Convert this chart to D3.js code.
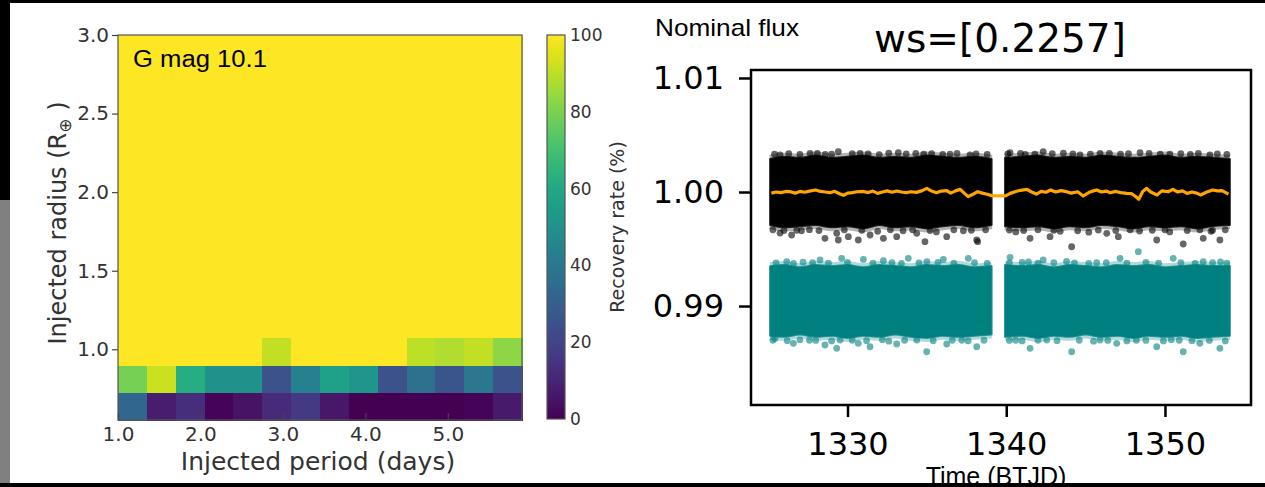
<!DOCTYPE html>
<html>
<head>
<meta charset="utf-8">
<script src="https://cdn.jsdelivr.net/npm/d3@7"></script>
<style>
  html, body { margin: 0; padding: 0; background: #fff; }
  svg { display: block; }
</style>
</head>
<body>
<svg id="fig" width="1265" height="487"></svg>
<script>
// ---------- injection / recovery grid ----------
const periodEdges = [1.00, 1.35, 1.70, 2.05, 2.40, 2.75, 3.10, 3.45, 3.80, 4.15, 4.50, 4.85, 5.20, 5.55, 5.90];
const radiusEdges = [0.550, 0.725, 0.900, 1.075, 1.250, 1.425, 1.600, 1.775, 1.950, 2.125, 2.300, 2.475, 2.650, 2.825, 3.000];
// recovery rate (%) per radius bin (bottom row first), one value per period bin
const recoveryRows = [
  [33, 8, 13, 1, 5, 12, 17, 6, 0, 0, 0, 0, 1, 7],
  [79, 92, 62, 50, 50, 25, 43, 57, 52, 25, 37, 26, 40, 25],
  [100, 100, 100, 100, 100, 91, 100, 100, 100, 100, 90, 88, 91, 83],
  [100, 100, 100, 100, 100, 100, 100, 100, 100, 100, 100, 100, 100, 100],
  [100, 100, 100, 100, 100, 100, 100, 100, 100, 100, 100, 100, 100, 100],
  [100, 100, 100, 100, 100, 100, 100, 100, 100, 100, 100, 100, 100, 100],
  [100, 100, 100, 100, 100, 100, 100, 100, 100, 100, 100, 100, 100, 100],
  [100, 100, 100, 100, 100, 100, 100, 100, 100, 100, 100, 100, 100, 100],
  [100, 100, 100, 100, 100, 100, 100, 100, 100, 100, 100, 100, 100, 100],
  [100, 100, 100, 100, 100, 100, 100, 100, 100, 100, 100, 100, 100, 100],
  [100, 100, 100, 100, 100, 100, 100, 100, 100, 100, 100, 100, 100, 100],
  [100, 100, 100, 100, 100, 100, 100, 100, 100, 100, 100, 100, 100, 100],
  [100, 100, 100, 100, 100, 100, 100, 100, 100, 100, 100, 100, 100, 100],
  [100, 100, 100, 100, 100, 100, 100, 100, 100, 100, 100, 100, 100, 100]
];
const periodTicks = [1.0, 2.0, 3.0, 4.0, 5.0];
const radiusTicks = [1.0, 1.5, 2.0, 2.5, 3.0];
const rateTicks = [0, 20, 40, 60, 80, 100];

// ---------- light curve ----------
const seg1Time = [1325.12, 1326, 1327, 1328, 1329, 1330, 1331, 1332, 1333, 1334, 1335, 1336, 1337, 1338, 1339.08];
const seg2Time = [1339.92, 1341, 1342, 1343, 1344, 1345, 1346, 1347, 1348, 1349, 1350, 1351, 1352, 1353, 1354.09];
// dense core of the nominal flux cloud
const nominalTop1 = [1.0029, 1.0031, 1.0030, 1.0032, 1.0030, 1.0031, 1.0032, 1.0030, 1.0031, 1.0030, 1.0032, 1.0031, 1.0030, 1.0031, 1.0029];
const nominalBot1 = [0.9971, 0.9969, 0.9970, 0.9971, 0.9969, 0.9970, 0.9968, 0.9971, 0.9969, 0.9970, 0.9968, 0.9970, 0.9971, 0.9969, 0.9971];
const nominalTop2 = [1.0030, 1.0031, 1.0032, 1.0030, 1.0031, 1.0030, 1.0032, 1.0031, 1.0030, 1.0031, 1.0032, 1.0030, 1.0031, 1.0030, 1.0029];
const nominalBot2 = [0.9970, 0.9969, 0.9970, 0.9968, 0.9970, 0.9969, 0.9971, 0.9970, 0.9968, 0.9970, 0.9969, 0.9970, 0.9968, 0.9970, 0.9971];
// dense core of the detrended flux cloud
const detrendTop1 = [0.9935, 0.9936, 0.9934, 0.9936, 0.9935, 0.9936, 0.9934, 0.9936, 0.9935, 0.9934, 0.9936, 0.9935, 0.9936, 0.9934, 0.9935];
const detrendBot1 = [0.9874, 0.9873, 0.9875, 0.9873, 0.9874, 0.9872, 0.9874, 0.9873, 0.9875, 0.9873, 0.9872, 0.9874, 0.9873, 0.9874, 0.9875];
const detrendTop2 = [0.9936, 0.9935, 0.9936, 0.9934, 0.9936, 0.9935, 0.9934, 0.9936, 0.9935, 0.9936, 0.9934, 0.9935, 0.9936, 0.9935, 0.9935];
const detrendBot2 = [0.9873, 0.9874, 0.9872, 0.9874, 0.9873, 0.9875, 0.9873, 0.9874, 0.9872, 0.9874, 0.9873, 0.9874, 0.9872, 0.9873, 0.9874];
// scattered points outside the dense cores [time, flux]
const nominalStray = [
  [1325.75, 0.99640], [1326.48, 0.99623], [1328.58, 0.99594], [1329.42, 0.99579], [1330.05, 0.99608],
  [1330.68, 0.99579], [1331.42, 0.99623], [1332.26, 0.99594], [1333.10, 0.99608], [1334.88, 0.99564],
  [1336.25, 0.99608], [1338.14, 0.99579], [1338.20, 0.99564], [1334.36, 0.99638], [1329.32, 0.99638],
  [1327.10, 0.99660], [1331.90, 0.99655], [1335.60, 0.99650], [1337.30, 0.99660], [1326.00, 0.99662],
  [1329.42, 1.00354], [1330.79, 1.00339], [1333.20, 1.00345], [1327.64, 1.00339], [1336.46, 1.00333],
  [1325.75, 1.00325], [1337.72, 1.00325], [1328.60, 1.00330], [1332.00, 1.00328], [1334.80, 1.00332],
  [1341.50, 0.99594], [1342.76, 0.99608], [1344.12, 0.99520], [1347.06, 0.99608], [1349.48, 0.99579],
  [1351.15, 0.99544], [1352.41, 0.99594], [1353.46, 0.99579], [1346.33, 0.99638], [1340.60, 0.99650],
  [1343.40, 0.99655], [1345.20, 0.99648], [1348.40, 0.99658], [1350.30, 0.99650], [1352.90, 0.99655],
  [1340.24, 1.00345], [1342.33, 1.00354], [1344.65, 1.00325], [1345.91, 1.00339], [1348.43, 1.00345],
  [1350.31, 1.00333], [1352.83, 1.00325], [1341.20, 1.00330], [1347.20, 1.00332], [1351.60, 1.00330]
];
// points along the fuzzy rims of the nominal cloud [time, flux]
const nominalRim = [
  [1325.40, 1.00332], [1326.30, 1.00336], [1327.00, 1.00330], [1328.10, 1.00338], [1329.00, 1.00332],
  [1330.30, 1.00336], [1331.30, 1.00334], [1332.60, 1.00340], [1333.70, 1.00334], [1334.30, 1.00338],
  [1335.30, 1.00336], [1336.00, 1.00330], [1336.90, 1.00338], [1338.10, 1.00334], [1338.80, 1.00330],
  [1325.30, 0.99668], [1326.80, 0.99664], [1327.60, 0.99670], [1328.20, 0.99662], [1329.80, 0.99668],
  [1330.90, 0.99664], [1332.70, 0.99668], [1333.50, 0.99660], [1334.10, 0.99668], [1335.20, 0.99662],
  [1336.70, 0.99668], [1337.80, 0.99664], [1338.70, 0.99668],
  [1340.10, 1.00334], [1340.90, 1.00338], [1341.80, 1.00332], [1342.90, 1.00336], [1343.60, 1.00340],
  [1344.20, 1.00334], [1345.30, 1.00332], [1346.50, 1.00338], [1347.70, 1.00336], [1349.00, 1.00338],
  [1349.70, 1.00332], [1351.00, 1.00336], [1352.10, 1.00338], [1353.30, 1.00334], [1353.90, 1.00330],
  [1340.20, 0.99666], [1341.10, 0.99662], [1342.00, 0.99668], [1343.00, 0.99664], [1344.50, 0.99660],
  [1345.80, 0.99666], [1346.90, 0.99662], [1347.80, 0.99668], [1349.20, 0.99664], [1350.00, 0.99668],
  [1351.40, 0.99662], [1352.20, 0.99668], [1353.00, 0.99664], [1353.80, 0.99668]
];
const detrendStray = [
  [1329.63, 0.99418], [1331.00, 0.99409], [1333.83, 0.99418], [1336.04, 0.99409], [1337.61, 0.99418],
  [1326.17, 0.99389], [1328.27, 0.99404], [1332.26, 0.99398], [1327.20, 0.99385], [1335.00, 0.99390],
  [1325.43, 0.98716], [1326.59, 0.98673], [1328.58, 0.98658], [1329.32, 0.98629], [1330.68, 0.98673],
  [1331.42, 0.98643], [1333.10, 0.98667], [1334.99, 0.98599], [1336.25, 0.98667], [1338.14, 0.98643],
  [1334.36, 0.98702], [1329.53, 0.98702], [1327.60, 0.98700], [1332.20, 0.98705], [1337.20, 0.98700],
  [1340.24, 0.99427], [1342.33, 0.99404], [1345.70, 0.99380], [1348.32, 0.99477], [1350.52, 0.99418],
  [1352.41, 0.99389], [1347.17, 0.99418], [1343.80, 0.99392], [1353.50, 0.99388], [1341.40, 0.99386],
  [1341.50, 0.98629], [1344.12, 0.98599], [1346.96, 0.98673], [1349.48, 0.98643], [1351.15, 0.98599],
  [1353.46, 0.98629], [1342.55, 0.98702], [1352.20, 0.98673], [1345.91, 0.98702], [1348.20, 0.98700],
  [1350.40, 0.98705], [1340.60, 0.98700]
];
// points along the fuzzy rims of the detrended cloud [time, flux]
const detrendRim = [
  [1325.50, 0.99378], [1326.60, 0.99374], [1327.80, 0.99380], [1328.80, 0.99376], [1330.00, 0.99382],
  [1331.60, 0.99376], [1332.80, 0.99380], [1333.40, 0.99374], [1334.50, 0.99378], [1335.70, 0.99382],
  [1336.70, 0.99376], [1338.00, 0.99380], [1338.80, 0.99374],
  [1325.30, 0.98700], [1326.20, 0.98696], [1327.00, 0.98704], [1328.00, 0.98698], [1329.00, 0.98694],
  [1330.30, 0.98700], [1331.20, 0.98696], [1332.60, 0.98692], [1333.60, 0.98700], [1335.40, 0.98696],
  [1336.60, 0.98700], [1337.60, 0.98694], [1338.60, 0.98700],
  [1340.20, 0.99378], [1341.00, 0.99382], [1342.00, 0.99376], [1343.00, 0.99380], [1344.30, 0.99378],
  [1345.20, 0.99374], [1346.30, 0.99380], [1347.60, 0.99376], [1348.80, 0.99382], [1349.60, 0.99376],
  [1351.00, 0.99380], [1351.90, 0.99374], [1353.00, 0.99380], [1353.90, 0.99376],
  [1340.20, 0.98698], [1341.00, 0.98694], [1342.00, 0.98700], [1343.20, 0.98696], [1344.60, 0.98700],
  [1345.50, 0.98692], [1346.40, 0.98698], [1347.60, 0.98694], [1348.80, 0.98698], [1349.90, 0.98694],
  [1350.90, 0.98700], [1351.70, 0.98696], [1352.80, 0.98698], [1353.80, 0.98694]
];
// smoothed trend of the nominal flux
const trendTime = [
  1325.2, 1325.5, 1325.8, 1326.1, 1326.4, 1326.7, 1327.0, 1327.3, 1327.6, 1328.0,
  1328.3, 1328.6, 1328.9, 1329.2, 1329.5, 1329.75, 1330.0, 1330.3, 1330.6, 1331.0,
  1331.3, 1331.6, 1331.9, 1332.2, 1332.5, 1332.8, 1333.1, 1333.4, 1333.7, 1334.0,
  1334.35, 1334.7, 1335.0, 1335.3, 1335.6, 1335.9, 1336.25, 1336.5, 1336.8, 1337.1,
  1337.35, 1337.6, 1337.9, 1338.2, 1338.5, 1338.8, 1339.08, 1339.95,
  1340.25, 1340.6, 1340.9, 1341.3, 1341.6, 1341.9, 1342.2, 1342.5, 1342.8, 1343.1,
  1343.45, 1343.8, 1344.1, 1344.5, 1344.85, 1345.2, 1345.5, 1345.7, 1346.0, 1346.3,
  1346.55, 1346.9, 1347.2, 1347.6, 1347.9, 1348.15, 1348.35, 1348.6, 1348.85, 1349.1,
  1349.5, 1349.8, 1350.2, 1350.5, 1350.8, 1351.1, 1351.4, 1351.7, 1352.0, 1352.25,
  1352.6, 1353.0, 1353.3, 1353.6, 1354.0
];
const trendFlux = [
  0.99990, 1.00000, 0.99995, 1.00005, 1.00003, 0.99990, 1.00005, 0.99998, 1.00008, 1.00018,
  1.00005, 1.00000, 0.99994, 1.00006, 0.99985, 0.99971, 0.99990, 0.99995, 1.00002, 1.00005,
  0.99995, 1.00008, 0.99988, 1.00000, 1.00010, 0.99998, 1.00009, 1.00000, 0.99995, 1.00002,
  0.99997, 1.00012, 1.00032, 1.00008, 0.99994, 1.00008, 1.00012, 0.99990, 1.00010, 1.00023,
  0.99990, 0.99959, 0.99980, 1.00003, 0.99990, 0.99980, 0.99968, 0.99966,
  0.99988, 1.00005, 1.00015, 1.00023, 1.00000, 0.99982, 1.00005, 0.99998, 1.00018, 1.00000,
  1.00012, 1.00003, 0.99990, 1.00002, 0.99965, 0.99995, 1.00010, 1.00018, 1.00000, 1.00008,
  0.99994, 1.00005, 0.99995, 0.99988, 0.99985, 0.99960, 0.99936, 1.00005, 1.00032, 1.00000,
  0.99974, 1.00010, 1.00002, 1.00023, 1.00000, 1.00010, 0.99988, 1.00000, 0.99990, 0.99974,
  0.99998, 1.00018, 1.00010, 1.00012, 0.99982
];
const timeTicks = [1330, 1340, 1350];
const fluxTicks = [0.99, 1.00, 1.01];

// ---------- drawing ----------
const svg = d3.select("#fig");
svg.append("rect").attr("width", 1265).attr("height", 487).attr("fill", "#fff");

const labelColor = "#333";
const dejavu = "DejaVu Sans, sans-serif";
const sans = "Liberation Sans, Arial, sans-serif";

// left panel: heatmap
const hm = { left: 118, right: 522, top: 35, bottom: 420 };
const xP = d3.scaleLinear().domain([periodEdges[0], periodEdges[periodEdges.length - 1]]).range([hm.left, hm.right]);
const yR = d3.scaleLinear().domain([radiusEdges[0], radiusEdges[radiusEdges.length - 1]]).range([hm.bottom, hm.top]);
const color = d3.scaleSequential(d3.interpolateViridis).domain([0, 100]);

const cells = [];
recoveryRows.forEach((row, j) => row.forEach((v, i) => cells.push({ i, j, v })));
svg.append("g").selectAll("rect").data(cells).join("rect")
  .attr("x", d => xP(periodEdges[d.i]))
  .attr("width", d => xP(periodEdges[d.i + 1]) - xP(periodEdges[d.i]) + 0.5)
  .attr("y", d => yR(radiusEdges[d.j + 1]))
  .attr("height", d => yR(radiusEdges[d.j]) - yR(radiusEdges[d.j + 1]) + 0.5)
  .attr("fill", d => color(d.v))
  .attr("shape-rendering", "crispEdges");

svg.append("rect")
  .attr("x", hm.left).attr("y", hm.top)
  .attr("width", hm.right - hm.left).attr("height", hm.bottom - hm.top)
  .attr("fill", "none").attr("stroke", "#555").attr("stroke-width", 1.2);

const hmY = svg.append("g").attr("transform", `translate(${hm.left},0)`)
  .call(d3.axisLeft(yR).tickValues(radiusTicks).tickFormat(d3.format(".1f")).tickSize(6).tickPadding(3));
const hmX = svg.append("g").attr("transform", `translate(0,${hm.bottom})`)
  .call(d3.axisBottom(xP).tickValues(periodTicks).tickFormat(d3.format(".1f")).tickSizeInner(-7).tickSizeOuter(0).tickPadding(7));
[hmY, hmX].forEach(g => {
  g.select(".domain").remove();
  g.selectAll(".tick line").attr("stroke", "#444").attr("stroke-width", 1.2);
  g.selectAll(".tick text").attr("fill", labelColor).attr("font-family", dejavu).attr("font-size", 20);
});

svg.append("text")
  .attr("x", 318).attr("y", 470)
  .attr("text-anchor", "middle")
  .attr("font-family", dejavu).attr("font-size", 25).attr("fill", labelColor)
  .text("Injected period (days)");

const yLab = svg.append("text")
  .attr("transform", "translate(66,223) rotate(-90)")
  .attr("text-anchor", "middle")
  .attr("font-family", dejavu).attr("font-size", 24).attr("fill", labelColor);
yLab.append("tspan").text("Injected radius (R");
yLab.append("tspan").attr("font-size", 17).attr("dy", 5).text("\u2295");
yLab.append("tspan").attr("dy", -5).text(" )");

svg.append("text")
  .attr("x", 133).attr("y", 67)
  .attr("font-family", sans).attr("font-size", 23).attr("fill", "#000")
  .attr("textLength", 134).attr("lengthAdjust", "spacingAndGlyphs")
  .text("G mag 10.1");

// colour bar
const cb = { left: 547, right: 565, top: 35, bottom: 419 };
const yC = d3.scaleLinear().domain([0, 100]).range([cb.bottom, cb.top]);
const grad = svg.append("defs").append("linearGradient")
  .attr("id", "viridisBar").attr("x1", 0).attr("y1", 1).attr("x2", 0).attr("y2", 0);
grad.selectAll("stop").data(d3.range(0, 101, 5)).join("stop")
  .attr("offset", d => d / 100)
  .attr("stop-color", d => color(d));
svg.append("rect")
  .attr("x", cb.left).attr("y", cb.top)
  .attr("width", cb.right - cb.left).attr("height", cb.bottom - cb.top)
  .attr("fill", "url(#viridisBar)").attr("stroke", "#555").attr("stroke-width", 1.2);
const cbAxis = svg.append("g").attr("transform", `translate(${cb.right},0)`)
  .call(d3.axisRight(yC).tickValues(rateTicks).tickSize(0).tickPadding(5));
cbAxis.select(".domain").remove();
cbAxis.selectAll(".tick text").attr("fill", labelColor).attr("font-family", dejavu).attr("font-size", 17);
svg.append("text")
  .attr("transform", "translate(624,227) rotate(-90)")
  .attr("text-anchor", "middle")
  .attr("font-family", dejavu).attr("font-size", 19).attr("fill", labelColor)
  .text("Recovery rate (%)");

// right panel: light curve
const lc = { left: 751, right: 1251, top: 70, bottom: 405 };
const xT = d3.scaleLinear().domain([1323.92, 1355.42]).range([lc.left, lc.right]);
const yF = d3.scaleLinear().domain([0.98132, 1.0107]).range([lc.bottom, lc.top]);

svg.append("defs").append("clipPath").attr("id", "lcClip")
  .append("rect").attr("x", lc.left).attr("y", lc.top)
  .attr("width", lc.right - lc.left).attr("height", lc.bottom - lc.top);
const lcG = svg.append("g").attr("clip-path", "url(#lcClip)");

const band = d3.area()
  .x(d => xT(d[0])).y0(d => yF(d[2])).y1(d => yF(d[1]))
  .curve(d3.curveMonotoneX);
const rimLine = d3.line().x(d => xT(d[0])).y(d => yF(d[1])).curve(d3.curveMonotoneX);
function drawCloud(times, tops, bots, fill) {
  const data = times.map((t, k) => [t, tops[k], bots[k]]);
  // soft fringe along the upper and lower rims where the cloud thins out
  [tops, bots].forEach(edge => {
    lcG.append("path").datum(times.map((t, k) => [t, edge[k]])).attr("d", rimLine)
      .attr("fill", "none").attr("stroke", fill)
      .attr("stroke-width", 8).attr("stroke-linecap", "butt").attr("stroke-opacity", 0.3);
  });
  lcG.append("path").datum(data).attr("d", band)
    .attr("fill", fill)
    .attr("stroke", fill).attr("stroke-width", 2).attr("stroke-linejoin", "round")
    .attr("stroke-opacity", 0.8);
}
function drawDots(points, fill) {
  lcG.append("g").selectAll("circle").data(points).join("circle")
    .attr("cx", d => xT(d[0])).attr("cy", d => yF(d[1])).attr("r", 3.4)
    .attr("fill", fill).attr("fill-opacity", 0.6);
}
drawCloud(seg1Time, nominalTop1, nominalBot1, "#000");
drawCloud(seg2Time, nominalTop2, nominalBot2, "#000");
drawDots(nominalRim, "#000");
drawDots(nominalStray, "#000");

drawCloud(seg1Time, detrendTop1, detrendBot1, "#008080");
drawCloud(seg2Time, detrendTop2, detrendBot2, "#008080");
drawDots(detrendRim, "#008080");
drawDots(detrendStray, "#008080");

lcG.append("path")
  .datum(trendTime.map((t, k) => [t, trendFlux[k]]))
  .attr("d", d3.line().x(d => xT(d[0])).y(d => yF(d[1])))
  .attr("fill", "none").attr("stroke", "#ffa500").attr("stroke-width", 3.2)
  .attr("stroke-linejoin", "round");

svg.append("rect")
  .attr("x", lc.left).attr("y", lc.top)
  .attr("width", lc.right - lc.left).attr("height", lc.bottom - lc.top)
  .attr("fill", "none").attr("stroke", "#000").attr("stroke-width", 2.5);

const lcY = svg.append("g").attr("transform", `translate(${lc.left},0)`)
  .call(d3.axisLeft(yF).tickValues(fluxTicks).tickFormat(d3.format(".2f")).tickSize(12).tickPadding(15));
const lcX = svg.append("g").attr("transform", `translate(0,${lc.bottom})`)
  .call(d3.axisBottom(xT).tickValues(timeTicks).tickFormat(d3.format("d")).tickSize(12).tickPadding(15));
[lcY, lcX].forEach(g => {
  g.select(".domain").remove();
  g.selectAll(".tick line").attr("stroke", "#000").attr("stroke-width", 2.5);
  g.selectAll(".tick text").attr("fill", "#000").attr("font-family", dejavu).attr("font-size", 32);
});

svg.append("text")
  .attr("x", 1000).attr("y", 52)
  .attr("text-anchor", "middle")
  .attr("font-family", dejavu).attr("font-size", 39).attr("fill", "#000")
  .text("ws=[0.2257]");

svg.append("text")
  .attr("x", 655).attr("y", 36)
  .attr("font-family", sans).attr("font-size", 24).attr("fill", "#000")
  .attr("textLength", 144).attr("lengthAdjust", "spacingAndGlyphs")
  .text("Nominal flux");

svg.append("text")
  .attr("x", 996).attr("y", 485)
  .attr("text-anchor", "middle")
  .attr("font-family", sans).attr("font-size", 25).attr("fill", "#000")
  .text("Time (BTJD)");

// page border strips
svg.append("rect").attr("x", 0).attr("y", 0).attr("width", 1265).attr("height", 3).attr("fill", "#000");
svg.append("rect").attr("x", 0).attr("y", 0).attr("width", 10).attr("height", 200).attr("fill", "#000");
svg.append("rect").attr("x", 0).attr("y", 200).attr("width", 10).attr("height", 283).attr("fill", "#808080");
svg.append("rect").attr("x", 0).attr("y", 483).attr("width", 1265).attr("height", 4).attr("fill", "#000");
</script>
</body>
</html>
